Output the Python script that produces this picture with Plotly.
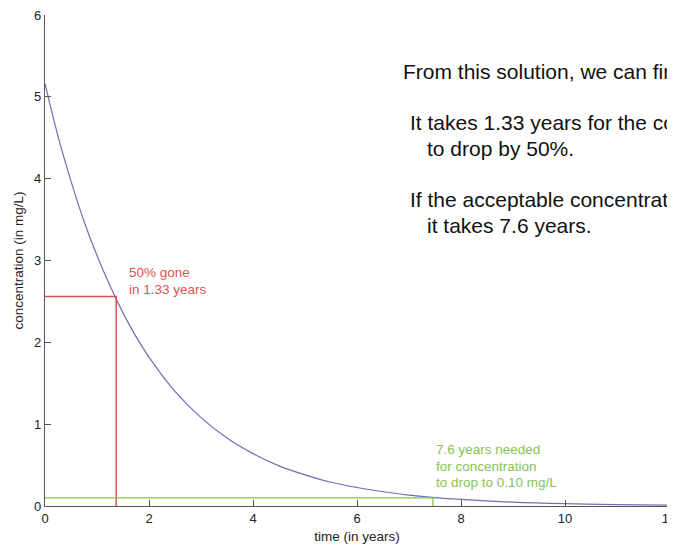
import plotly.graph_objects as go

# Concentration curve
time_years = [0, 0.25, 0.5, 0.75, 1.0, 1.25, 1.5, 1.75, 2.0, 2.5, 3.0, 3.5, 4.0, 4.5,
              5.0, 5.5, 6.0, 6.5, 7.0, 7.5, 8.0, 9.0, 10.0, 11.0, 12.0]
concentration = [5.16, 4.52, 3.97, 3.48, 3.06, 2.69, 2.36, 2.07, 1.82, 1.40, 1.08, 0.83,
                 0.64, 0.49, 0.38, 0.29, 0.226, 0.174, 0.134, 0.103, 0.080, 0.047, 0.028,
                 0.017, 0.010]

half_time = 1.37
half_conc = 2.56
target_time = 7.46
target_conc = 0.10

x_ticks = [0, 2, 4, 6, 8, 10, 12]
y_ticks = [0, 1, 2, 3, 4, 5, 6]

BLUE = "#6e6fb8"
RED = "#e0524f"
GREEN = "#86c255"
AXIS = "#555555"

fig = go.Figure()
fig.add_trace(go.Scatter(x=time_years, y=concentration, mode="lines",
                         line=dict(color=BLUE, width=1.2, shape="spline"),
                         hoverinfo="skip", showlegend=False))
fig.add_trace(go.Scatter(x=[0, half_time, half_time], y=[half_conc, half_conc, 0],
                         mode="lines", line=dict(color=RED, width=1.5),
                         hoverinfo="skip", showlegend=False))
fig.add_trace(go.Scatter(x=[0, target_time, target_time], y=[target_conc, target_conc, 0],
                         mode="lines", line=dict(color=GREEN, width=1.3),
                         hoverinfo="skip", showlegend=False))

# The page body adds an 8px margin, so the figure is drawn 8px in from the top-left.
OFF = 8
W, H = 675 - OFF, 546 - OFF
X0, X1 = 44.5, 669.5      # screen px of x = 0 and x = 12
Y0, Y1 = 506.5, 15        # screen px of y = 0 and y = 6
L, R = X0 - OFF, 675 - X1
T, B = Y1 - OFF, 546 - Y0
pw, ph = X1 - X0, Y0 - Y1

def px(x):
    return (x - X0) / pw

def py(y):
    return (Y0 - y) / ph

FONT = "Liberation Sans, Arial, sans-serif"
annotations = []

def add_text(text, x, y, size, color):
    annotations.append(dict(text=text, x=px(x), y=py(y), xref="paper", yref="paper",
                            xanchor="left", yanchor="middle", showarrow=False,
                            font=dict(family=FONT, size=size, color=color)))

black = "#111111"
add_text("From this solution, we can find:", 401, 72, 21, black)
add_text("It takes 1.33 years for the concentration", 408, 123, 21, black)
add_text("to drop by 50%.", 425, 149, 21, black)
add_text("If the acceptable concentration is 0.10 mg/L,", 408, 200, 21, black)
add_text("it takes 7.6 years.", 425, 226, 21, black)

add_text("50% gone", 127, 273, 13.5, RED)
add_text("in 1.33 years", 127, 290, 13.5, RED)

add_text("7.6 years needed", 434, 450, 13.5, GREEN)
add_text("for concentration", 434, 467, 13.5, GREEN)
add_text("to drop to 0.10 mg/L", 434, 483, 13.5, GREEN)

fig.update_layout(
    width=W, height=H,
    margin=dict(l=L, r=R, t=T, b=B, pad=0),
    paper_bgcolor="white", plot_bgcolor="white",
    annotations=annotations,
    xaxis=dict(range=[0, 12], tickvals=x_ticks, ticks="inside", ticklen=6,
               tickcolor=AXIS, showline=True, linecolor=AXIS, linewidth=1.2,
               showgrid=False, zeroline=False, automargin=False,
               ticklabeloverflow="allow",
               tickfont=dict(family=FONT, size=13, color="#222222"),
               title=dict(text="time (in years)", standoff=6,
                          font=dict(family=FONT, size=13.5, color="#222222"))),
    yaxis=dict(range=[0, 6], tickvals=y_ticks, ticks="inside", ticklen=6,
               tickcolor=AXIS, showline=True, linecolor=AXIS, linewidth=1.2,
               showgrid=False, zeroline=False, automargin=False,
               ticklabeloverflow="allow",
               tickfont=dict(family=FONT, size=13, color="#222222"),
               title=dict(text="concentration (in mg/L)", standoff=7,
                          font=dict(family=FONT, size=13.5, color="#222222"))),
)

fig.write_html("out.html")
